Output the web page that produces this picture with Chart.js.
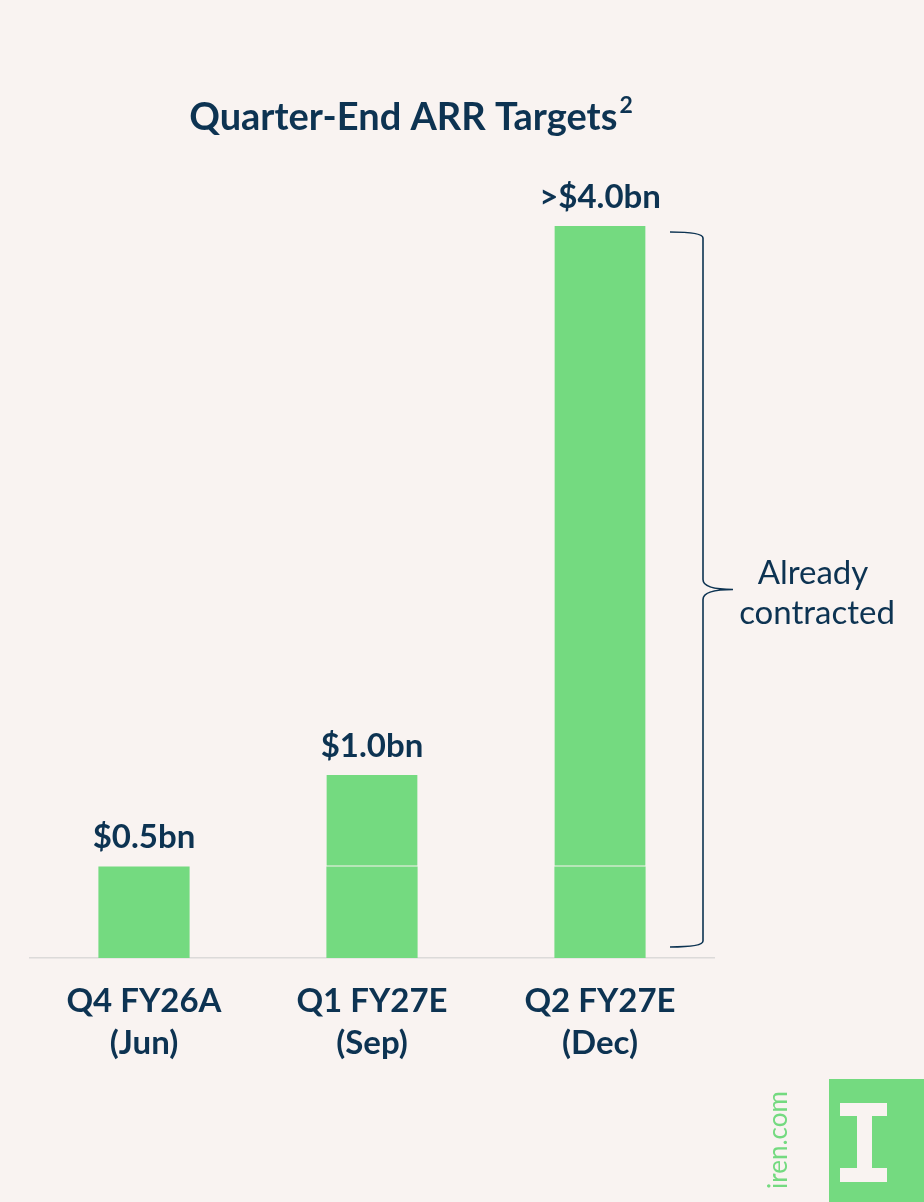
<!DOCTYPE html>
<html>
<head>
<meta charset="utf-8">
<script src="https://cdn.jsdelivr.net/npm/chart.js@4.4.1/dist/chart.umd.min.js"></script>
<style>
  html, body { margin: 0; padding: 0; background: #f9f3f1; }
  #wrap { position: relative; width: 924px; height: 1202px; }
</style>
</head>
<body>
<div id="wrap"><canvas id="arr"></canvas></div>
<script>
const categories = [['Q4 FY26A', '(Jun)'], ['Q1 FY27E', '(Sep)'], ['Q2 FY27E', '(Dec)']];
const baseValues = [0.5, 0.5, 0.5];
const addedValues = [null, 0.5, 3.5];
const valueLabels = ['$0.5bn', '$1.0bn', '>$4.0bn'];
const titleText = 'Quarter-End ARR Targets';
const braceText = ['Already', 'contracted'];

const navy = '#0d3352';
const green = '#74da80';
const bg = '#f9f3f1';
const font = 'Lato, "Noto Sans", sans-serif';

const extras = {
  id: 'extras',
  afterDatasetsDraw(chart) {
    const ctx = chart.ctx;
    const x = chart.scales.x, y = chart.scales.y;
    ctx.save();

    // title
    ctx.fillStyle = navy;
    ctx.textBaseline = 'alphabetic';
    ctx.textAlign = 'left';
    ctx.font = `bold 38px ${font}`;
    const tw = ctx.measureText(titleText).width;
    ctx.font = `bold 23px ${font}`;
    const sw = ctx.measureText('2').width;
    const tx = 411 - (tw + sw + 2) / 2;
    ctx.font = `bold 38px ${font}`;
    ctx.fillText(titleText, tx, 130);
    ctx.font = `bold 23px ${font}`;
    ctx.fillText('2', tx + tw + 2, 113);

    // value labels above bars
    ctx.font = `bold 33px ${font}`;
    ctx.textAlign = 'center';
    ctx.textBaseline = 'middle';
    valueLabels.forEach((lab, i) => {
      const total = baseValues[i] + (addedValues[i] || 0);
      ctx.fillText(lab, x.getPixelForValue(i), y.getPixelForValue(total) - 29);
    });

    // brace beside the last bar
    const last = categories.length - 1;
    const topY = y.getPixelForValue(baseValues[last] + addedValues[last]) + 6;
    const botY = y.getPixelForValue(0) - 11;
    const midY = (topY + botY) / 2;
    const x0 = x.getPixelForValue(last) + 70;
    const xv = x0 + 33;
    ctx.strokeStyle = navy;
    ctx.lineWidth = 1.6;
    ctx.beginPath();
    ctx.moveTo(x0, topY);
    ctx.quadraticCurveTo(xv, topY, xv, topY + 6);
    ctx.lineTo(xv, midY - 10);
    ctx.quadraticCurveTo(xv, midY, xv + 30, midY);
    ctx.moveTo(xv + 30, midY);
    ctx.quadraticCurveTo(xv, midY, xv, midY + 10);
    ctx.lineTo(xv, botY - 6);
    ctx.quadraticCurveTo(xv, botY, x0, botY);
    ctx.stroke();

    ctx.font = `33px ${font}`;
    ctx.fillStyle = navy;
    ctx.fillText(braceText[0], 813, midY - 16);
    ctx.fillText(braceText[1], 817, midY + 24);

    // logo
    ctx.fillStyle = green;
    ctx.fillRect(829, 1079, 95, 123);
    ctx.fillStyle = bg;
    ctx.fillRect(840, 1103, 47, 13);
    ctx.fillRect(857, 1103, 15, 79);
    ctx.fillRect(840, 1168, 47, 14);
    ctx.save();
    ctx.translate(779, 1140);
    ctx.rotate(-Math.PI / 2);
    ctx.fillStyle = green;
    ctx.font = `26px ${font}`;
    ctx.fillText('iren.com', 0, 0);
    ctx.restore();

    ctx.restore();
  }
};

new Chart(document.getElementById('arr'), {
  type: 'bar',
  data: {
    labels: categories,
    datasets: [
      {
        data: baseValues,
        backgroundColor: green,
        borderWidth: 0,
        categoryPercentage: 0.8,
        barPercentage: 0.5
      },
      {
        data: addedValues,
        backgroundColor: green,
        borderColor: 'rgba(255,255,255,0.07)',
        borderWidth: { top: 0, left: 0, right: 0, bottom: 1 },
        borderSkipped: false,
        categoryPercentage: 0.8,
        barPercentage: 0.5
      }
    ]
  },
  plugins: [extras],
  options: {
    responsive: true,
    maintainAspectRatio: false,
    animation: false,
    layout: { padding: { left: 30, right: 210, top: 226, bottom: 134 } },
    plugins: { legend: { display: false }, tooltip: { enabled: false } },
    scales: {
      x: {
        stacked: true,
        grid: { display: false },
        border: { display: true, color: '#dcdad9', width: 1.5 },
        ticks: {
          color: navy,
          font: { family: font, size: 33, weight: 'bold', lineHeight: 1.25 },
          padding: 15
        },
        afterFit(scale) { scale.height = 110; }
      },
      y: {
        stacked: true,
        display: false,
        min: 0,
        max: 4.0
      }
    }
  }
});
</script>
</body>
</html>
